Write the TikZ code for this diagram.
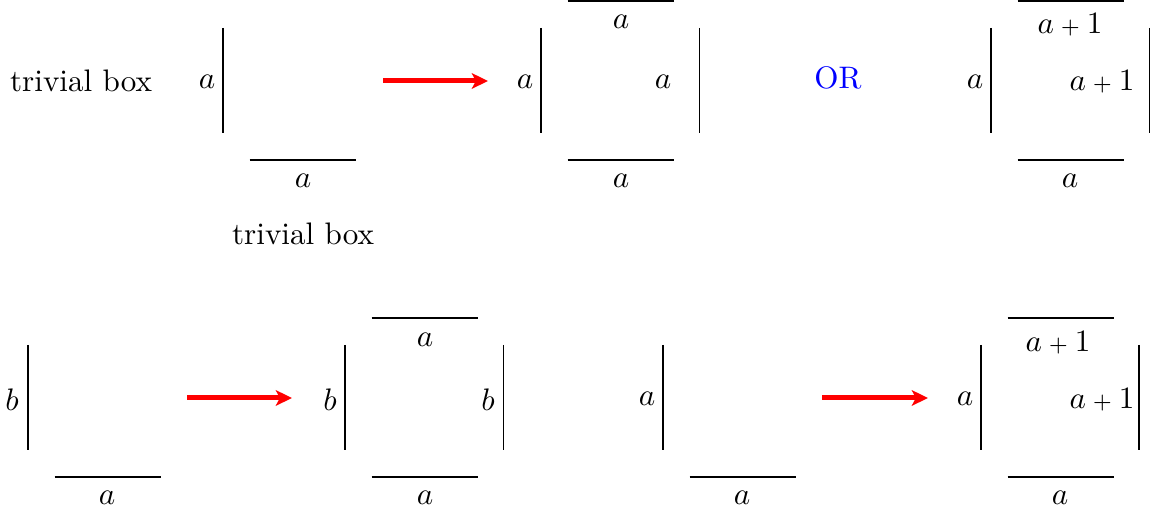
\documentclass[tikz,border=0pt]{standalone}
\usetikzlibrary{arrows.meta}
\newcommand{\aplus}{$a\mathbin{\scriptstyle+}1$}
\tikzset{
  boxline/.style={line width=0.4pt, black},
  lbl/.style={inner sep=0pt},
  txt/.style={inner sep=0pt, anchor=base},
  redarrow/.style={red, line width=1.6pt, -{Stealth[length=5.2pt,width=5pt,inset=1.3pt]}},
}
\begin{document}
\begin{tikzpicture}[x=0.3215pt,y=-0.3215pt]
\useasboundingbox (0,0) rectangle (1152,514);

% ---------- Row 1 ----------
\node[txt] (tb1) at (81,91.5) {trivial box};

% box 1 (trivial box)
\begin{scope}[shift={(223,28)}]
  \draw[boxline] (0,0) -- (0,105);
  \draw[boxline] (26.5,132) -- (132.5,132);
\end{scope}
\node[lbl] (b1l) at (207,82) {$a$};
\node[lbl] (b1b) at (303,181) {$a$};
\node[txt] (tb2) at (303,245) {trivial box};

\coordinate (s1) at (383,81);
\coordinate (t1) at (488,81);
\draw[redarrow] (s1) -- (t1);

% box 2
\begin{scope}[shift={(541,28)}]
  \draw[boxline] (0,0) -- (0,105);
  \draw[boxline] (158.5,0) -- (158.5,105);
  \draw[boxline] (26.5,-27) -- (132.5,-27);
  \draw[boxline] (26.5,132) -- (132.5,132);
\end{scope}
\node[lbl] (b2l) at (525,82) {$a$};
\node[lbl] (b2t) at (621,22) {$a$};
\node[lbl] (b2r) at (663,82) {$a$};
\node[lbl] (b2b) at (621,181) {$a$};

\node[txt, text=blue] (or) at (838,89) {OR};

% box 3
\begin{scope}[shift={(991,28)}]
  \draw[boxline] (0,0) -- (0,105);
  \draw[boxline] (158.5,0) -- (158.5,105);
  \draw[boxline] (26.5,-27) -- (132.5,-27);
  \draw[boxline] (26.5,132) -- (132.5,132);
\end{scope}
\node[lbl] (b3l) at (975,82) {$a$};
\node[lbl] (b3t) at (1070,25) {\aplus};
\node[lbl] (b3r) at (1102,82) {\aplus};
\node[lbl] (b3b) at (1070,181) {$a$};

% ---------- Row 2 ----------
% box 4
\begin{scope}[shift={(28,345)}]
  \draw[boxline] (0,0) -- (0,105.5);
  \draw[boxline] (26.5,132) -- (132.5,132);
\end{scope}
\node[lbl] (b4l) at (12,400) {$b$};
\node[lbl] (b4b) at (107,498) {$a$};

\coordinate (s2) at (187,398);
\coordinate (t2) at (292,398);
\draw[redarrow] (s2) -- (t2);

% box 5
\begin{scope}[shift={(345,345)}]
  \draw[boxline] (0,0) -- (0,105.5);
  \draw[boxline] (158.5,0) -- (158.5,105.5);
  \draw[boxline] (26.5,-27) -- (132.5,-27);
  \draw[boxline] (26.5,132) -- (132.5,132);
\end{scope}
\node[lbl] (b5l) at (330,400) {$b$};
\node[lbl] (b5t) at (425,340) {$a$};
\node[lbl] (b5r) at (488,400) {$b$};
\node[lbl] (b5b) at (425,498) {$a$};

% box 6
\begin{scope}[shift={(663,345)}]
  \draw[boxline] (0,0) -- (0,105.5);
  \draw[boxline] (26.5,132) -- (132.5,132);
\end{scope}
\node[lbl] (b6l) at (647,399) {$a$};
\node[lbl] (b6b) at (742,498) {$a$};

\coordinate (s3) at (822,398);
\coordinate (t3) at (928,398);
\draw[redarrow] (s3) -- (t3);

% box 7
\begin{scope}[shift={(981,345)}]
  \draw[boxline] (0,0) -- (0,105.5);
  \draw[boxline] (158,0) -- (158,105.5);
  \draw[boxline] (26.5,-27) -- (132.5,-27);
  \draw[boxline] (26.5,132) -- (132.5,132);
\end{scope}
\node[lbl] (b7l) at (965,399) {$a$};
\node[lbl] (b7t) at (1058,343) {\aplus};
\node[lbl] (b7r) at (1102,400) {\aplus};
\node[lbl] (b7b) at (1060,498) {$a$};
\end{tikzpicture}
\end{document}
